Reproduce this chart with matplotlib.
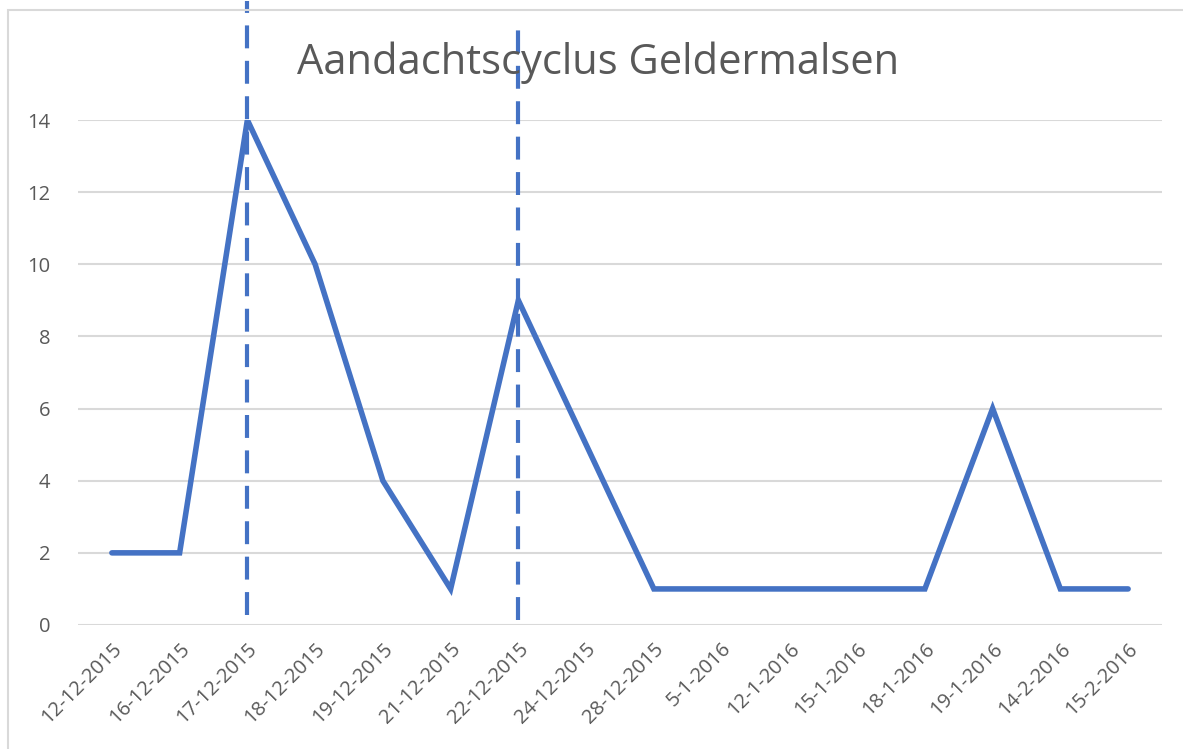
import matplotlib
matplotlib.use('Agg')
from matplotlib import pyplot as plt
from matplotlib.patches import Rectangle

# data
dates = ['12-12-2015', '16-12-2015', '17-12-2015', '18-12-2015', '19-12-2015',
         '21-12-2015', '22-12-2015', '24-12-2015', '28-12-2015', '5-1-2016',
         '12-1-2016', '15-1-2016', '18-1-2016', '19-1-2016', '14-2-2016', '15-2-2016']
counts = [2, 2, 14, 10, 4, 1, 9, 5, 1, 1, 1, 1, 1, 6, 1, 1]
marker_dates = ['17-12-2015', '22-12-2015']

plt.rcParams['font.family'] = ['Open Sans', 'DejaVu Sans']

fig = plt.figure(figsize=(11.83, 7.49), dpi=100)
fig.patch.set_facecolor('white')

# chart frame
fig.patches.append(Rectangle((8/1183, -0.05), 1.2, 1 - 10/749 + 0.05,
                             transform=fig.transFigure, fill=False,
                             edgecolor='#D9D9D9', lw=1.5))

ax = fig.add_axes([78/1183, 1 - 625/749, (1162 - 78)/1183, (625 - 120)/749])
x = list(range(len(dates)))
ax.plot(x, counts, color='#4472C4', lw=4, solid_joinstyle='miter', solid_capstyle='round', zorder=3)

# dashed markers
tops = [17.3, 16.8]
bottoms = [0.28, 0.14]
for d, t, b in zip(marker_dates, tops, bottoms):
    i = dates.index(d)
    ax.plot([i, i], [b, t], color='#4472C4', lw=3, ls=(0, (5.5, 3)), clip_on=False, zorder=4)

ax.set_xlim(-0.5, len(dates) - 0.5)
ax.set_ylim(0, 14)
ax.set_yticks(range(0, 15, 2))
ax.set_xticks(x)
ax.set_xticklabels(dates, rotation=45, ha='right', rotation_mode='anchor')
ax.grid(axis='y', color='#D9D9D9', lw=1.5)
ax.set_axisbelow(True)
for s in ax.spines.values():
    s.set_visible(False)
ax.tick_params(length=0, labelsize=14.5, colors='#595959')
ax.tick_params(axis='y', pad=20)
ax.tick_params(axis='x', pad=10)

fig.text(598/1183, 1 - 63/749, 'Aandachtscyclus Geldermalsen', ha='center', va='center',
         fontsize=30, color='#595959')

plt.savefig('out.png', dpi=100)
